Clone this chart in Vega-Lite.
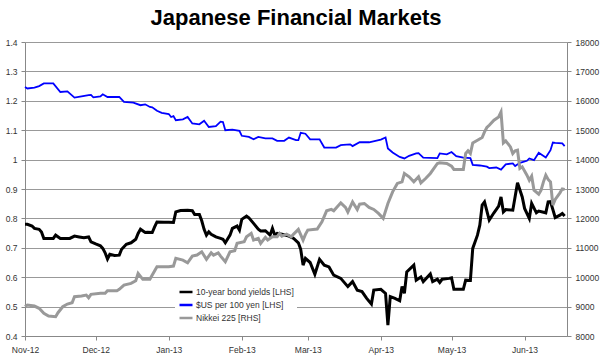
{
  "$schema": "https://vega.github.io/schema/vega-lite/v6.json",
  "width": 542,
  "height": 294,
  "autosize": {"type": "none"},
  "padding": {"left": 25, "top": 42, "right": 33, "bottom": 28},
  "title": {"text": "Japanese Financial Markets", "fontSize": 22, "fontWeight": "bold", "font": "Liberation Sans", "color": "#000", "anchor": "middle", "offset": 8},
  "config": {
    "font": "Liberation Sans",
    "view": {"stroke": null},
    "axis": {"labelFontSize": 8.5, "labelColor": "#333", "domainColor": "#888", "tickColor": "#888", "tickSize": 4, "title": null, "labelFont": "Liberation Sans"}
  },
  "datasets": {
    "bond": [
      {"d":"2012-11-01","v":0.780},{"d":"2012-11-02","v":0.780},{"d":"2012-11-04","v":0.774},{"d":"2012-11-05","v":0.766},{"d":"2012-11-07","v":0.763},{"d":"2012-11-08","v":0.754},{"d":"2012-11-09","v":0.732},{"d":"2012-11-12","v":0.732},{"d":"2012-11-13","v":0.732},{"d":"2012-11-14","v":0.743},{"d":"2012-11-16","v":0.732},{"d":"2012-11-20","v":0.732},{"d":"2012-11-22","v":0.740},{"d":"2012-11-24","v":0.737},{"d":"2012-11-26","v":0.734},{"d":"2012-11-28","v":0.737},{"d":"2012-11-29","v":0.720},
      {"d":"2012-12-01","v":0.713},{"d":"2012-12-03","v":0.707},{"d":"2012-12-04","v":0.698},{"d":"2012-12-05","v":0.683},{"d":"2012-12-06","v":0.662},{"d":"2012-12-07","v":0.678},{"d":"2012-12-09","v":0.674},{"d":"2012-12-11","v":0.675},{"d":"2012-12-12","v":0.695},{"d":"2012-12-14","v":0.712},{"d":"2012-12-16","v":0.717},{"d":"2012-12-18","v":0.729},{"d":"2012-12-19","v":0.749},{"d":"2012-12-20","v":0.763},{"d":"2012-12-22","v":0.752},{"d":"2012-12-23","v":0.753},{"d":"2012-12-25","v":0.752},{"d":"2012-12-26","v":0.771},{"d":"2012-12-27","v":0.788},{"d":"2012-12-30","v":0.787},
      {"d":"2013-01-01","v":0.787},{"d":"2013-01-03","v":0.786},{"d":"2013-01-04","v":0.822},{"d":"2013-01-06","v":0.827},{"d":"2013-01-09","v":0.828},{"d":"2013-01-11","v":0.826},{"d":"2013-01-12","v":0.813},{"d":"2013-01-14","v":0.813},{"d":"2013-01-15","v":0.792},{"d":"2013-01-16","v":0.763},{"d":"2013-01-17","v":0.743},{"d":"2013-01-18","v":0.754},{"d":"2013-01-19","v":0.746},{"d":"2013-01-21","v":0.737},{"d":"2013-01-23","v":0.732},{"d":"2013-01-24","v":0.729},{"d":"2013-01-25","v":0.717},{"d":"2013-01-27","v":0.743},{"d":"2013-01-28","v":0.766},{"d":"2013-01-30","v":0.774},{"d":"2013-01-31","v":0.760},
      {"d":"2013-02-01","v":0.797},{"d":"2013-02-03","v":0.808},{"d":"2013-02-04","v":0.802},{"d":"2013-02-06","v":0.783},{"d":"2013-02-08","v":0.763},{"d":"2013-02-09","v":0.757},{"d":"2013-02-11","v":0.758},{"d":"2013-02-13","v":0.743},{"d":"2013-02-14","v":0.766},{"d":"2013-02-15","v":0.743},{"d":"2013-02-16","v":0.749},{"d":"2013-02-18","v":0.746},{"d":"2013-02-21","v":0.740},{"d":"2013-02-23","v":0.732},{"d":"2013-02-25","v":0.717},{"d":"2013-02-26","v":0.695},{"d":"2013-02-27","v":0.641},{"d":"2013-02-28","v":0.664},
      {"d":"2013-03-02","v":0.650},{"d":"2013-03-04","v":0.610},{"d":"2013-03-06","v":0.661},{"d":"2013-03-08","v":0.641},{"d":"2013-03-10","v":0.635},{"d":"2013-03-12","v":0.607},{"d":"2013-03-15","v":0.596},{"d":"2013-03-18","v":0.568},{"d":"2013-03-20","v":0.585},{"d":"2013-03-22","v":0.556},{"d":"2013-03-24","v":0.551},{"d":"2013-03-26","v":0.528},{"d":"2013-03-28","v":0.509},{"d":"2013-03-29","v":0.556},
      {"d":"2013-04-01","v":0.559},{"d":"2013-04-03","v":0.545},{"d":"2013-04-04","v":0.437},{"d":"2013-04-05","v":0.534},{"d":"2013-04-07","v":0.528},{"d":"2013-04-09","v":0.520},{"d":"2013-04-10","v":0.568},{"d":"2013-04-11","v":0.545},{"d":"2013-04-12","v":0.618},{"d":"2013-04-15","v":0.641},{"d":"2013-04-16","v":0.590},{"d":"2013-04-18","v":0.601},{"d":"2013-04-19","v":0.585},{"d":"2013-04-22","v":0.611},{"d":"2013-04-23","v":0.585},{"d":"2013-04-25","v":0.593},{"d":"2013-04-26","v":0.582},{"d":"2013-04-27","v":0.593},{"d":"2013-04-30","v":0.596},
      {"d":"2013-05-01","v":0.598},{"d":"2013-05-02","v":0.559},{"d":"2013-05-06","v":0.559},{"d":"2013-05-07","v":0.590},{"d":"2013-05-09","v":0.589},{"d":"2013-05-10","v":0.698},{"d":"2013-05-12","v":0.743},{"d":"2013-05-13","v":0.777},{"d":"2013-05-14","v":0.845},{"d":"2013-05-15","v":0.856},{"d":"2013-05-17","v":0.794},{"d":"2013-05-19","v":0.819},{"d":"2013-05-21","v":0.842},{"d":"2013-05-22","v":0.873},{"d":"2013-05-23","v":0.822},{"d":"2013-05-24","v":0.830},{"d":"2013-05-27","v":0.828},{"d":"2013-05-29","v":0.921},{"d":"2013-05-31","v":0.873},
      {"d":"2013-06-01","v":0.834},{"d":"2013-06-03","v":0.800},{"d":"2013-06-04","v":0.851},{"d":"2013-06-06","v":0.819},{"d":"2013-06-07","v":0.825},{"d":"2013-06-10","v":0.819},{"d":"2013-06-11","v":0.856},{"d":"2013-06-12","v":0.857},{"d":"2013-06-14","v":0.803},{"d":"2013-06-16","v":0.811},{"d":"2013-06-17","v":0.817},{"d":"2013-06-18","v":0.808}
    ],
    "usd": [
      {"d":"2012-11-01","v":1.247},{"d":"2012-11-02","v":1.242},{"d":"2012-11-05","v":1.245},{"d":"2012-11-07","v":1.250},{"d":"2012-11-09","v":1.259},{"d":"2012-11-13","v":1.259},{"d":"2012-11-16","v":1.230},{"d":"2012-11-19","v":1.232},{"d":"2012-11-22","v":1.211},{"d":"2012-11-25","v":1.215},{"d":"2012-11-28","v":1.219},{"d":"2012-11-29","v":1.220},{"d":"2012-11-30","v":1.212},
      {"d":"2012-12-03","v":1.215},{"d":"2012-12-04","v":1.222},{"d":"2012-12-06","v":1.213},{"d":"2012-12-11","v":1.213},{"d":"2012-12-13","v":1.196},{"d":"2012-12-17","v":1.194},{"d":"2012-12-20","v":1.185},{"d":"2012-12-22","v":1.188},{"d":"2012-12-24","v":1.179},{"d":"2012-12-25","v":1.178},{"d":"2012-12-27","v":1.166},{"d":"2012-12-29","v":1.159},
      {"d":"2013-01-01","v":1.155},{"d":"2013-01-02","v":1.145},{"d":"2013-01-03","v":1.148},{"d":"2013-01-04","v":1.134},{"d":"2013-01-07","v":1.137},{"d":"2013-01-09","v":1.145},{"d":"2013-01-11","v":1.123},{"d":"2013-01-14","v":1.120},{"d":"2013-01-16","v":1.132},{"d":"2013-01-18","v":1.111},{"d":"2013-01-21","v":1.114},{"d":"2013-01-23","v":1.129},{"d":"2013-01-24","v":1.128},{"d":"2013-01-25","v":1.100},{"d":"2013-01-28","v":1.102},{"d":"2013-01-31","v":1.098},
      {"d":"2013-02-01","v":1.081},{"d":"2013-02-04","v":1.077},{"d":"2013-02-06","v":1.069},{"d":"2013-02-08","v":1.077},{"d":"2013-02-11","v":1.072},{"d":"2013-02-14","v":1.072},{"d":"2013-02-16","v":1.064},{"d":"2013-02-19","v":1.064},{"d":"2013-02-21","v":1.075},{"d":"2013-02-24","v":1.066},{"d":"2013-02-25","v":1.066},{"d":"2013-02-26","v":1.091},{"d":"2013-02-28","v":1.088},
      {"d":"2013-03-02","v":1.069},{"d":"2013-03-06","v":1.069},{"d":"2013-03-08","v":1.041},{"d":"2013-03-13","v":1.041},{"d":"2013-03-15","v":1.049},{"d":"2013-03-16","v":1.050},{"d":"2013-03-19","v":1.052},{"d":"2013-03-20","v":1.046},{"d":"2013-03-23","v":1.059},{"d":"2013-03-27","v":1.059},
      {"d":"2013-04-01","v":1.068},{"d":"2013-04-03","v":1.075},{"d":"2013-04-04","v":1.038},{"d":"2013-04-06","v":1.024},{"d":"2013-04-09","v":1.009},{"d":"2013-04-11","v":1.004},{"d":"2013-04-13","v":1.013},{"d":"2013-04-16","v":1.021},{"d":"2013-04-17","v":1.022},{"d":"2013-04-19","v":1.007},{"d":"2013-04-25","v":1.005},{"d":"2013-04-26","v":1.021},{"d":"2013-04-29","v":1.018},
      {"d":"2013-05-01","v":1.026},{"d":"2013-05-03","v":1.012},{"d":"2013-05-06","v":1.007},{"d":"2013-05-09","v":1.005},{"d":"2013-05-10","v":0.982},{"d":"2013-05-13","v":0.980},{"d":"2013-05-16","v":0.976},{"d":"2013-05-17","v":0.971},{"d":"2013-05-20","v":0.973},{"d":"2013-05-22","v":0.966},{"d":"2013-05-24","v":0.984},{"d":"2013-05-27","v":0.987},{"d":"2013-05-28","v":0.978},{"d":"2013-05-30","v":0.989},
      {"d":"2013-06-02","v":0.996},{"d":"2013-06-03","v":1.004},{"d":"2013-06-05","v":0.998},{"d":"2013-06-07","v":1.023},{"d":"2013-06-10","v":1.007},{"d":"2013-06-12","v":1.032},{"d":"2013-06-13","v":1.058},{"d":"2013-06-14","v":1.057},{"d":"2013-06-17","v":1.055},{"d":"2013-06-18","v":1.046}
    ],
    "nikkei": [
      {"d":"2012-11-01","v":9000},{"d":"2012-11-02","v":9053},{"d":"2012-11-05","v":9019},{"d":"2012-11-07","v":8941},{"d":"2012-11-09","v":8771},{"d":"2012-11-11","v":8680},{"d":"2012-11-14","v":8656},{"d":"2012-11-15","v":8792},{"d":"2012-11-17","v":8996},{"d":"2012-11-19","v":9087},{"d":"2012-11-21","v":9132},{"d":"2012-11-22","v":9336},{"d":"2012-11-25","v":9359},{"d":"2012-11-27","v":9393},{"d":"2012-11-28","v":9302},{"d":"2012-11-29","v":9416},
      {"d":"2012-12-03","v":9450},{"d":"2012-12-05","v":9450},{"d":"2012-12-06","v":9540},{"d":"2012-12-10","v":9540},{"d":"2012-12-11","v":9586},{"d":"2012-12-13","v":9733},{"d":"2012-12-16","v":9790},{"d":"2012-12-18","v":9879},{"d":"2012-12-19","v":10130},{"d":"2012-12-21","v":9927},{"d":"2012-12-24","v":9927},{"d":"2012-12-25","v":10073},{"d":"2012-12-27","v":10355},
      {"d":"2013-01-01","v":10355},{"d":"2013-01-03","v":10378},{"d":"2013-01-04","v":10640},{"d":"2013-01-07","v":10582},{"d":"2013-01-09","v":10491},{"d":"2013-01-11","v":10718},{"d":"2013-01-13","v":10752},{"d":"2013-01-15","v":10865},{"d":"2013-01-17","v":10606},{"d":"2013-01-19","v":10830},{"d":"2013-01-20","v":10752},{"d":"2013-01-22","v":10830},{"d":"2013-01-23","v":10718},{"d":"2013-01-25","v":10525},{"d":"2013-01-27","v":10865},{"d":"2013-01-29","v":10899},{"d":"2013-01-30","v":11150},
      {"d":"2013-02-02","v":11204},{"d":"2013-02-03","v":11374},{"d":"2013-02-05","v":11490},{"d":"2013-02-06","v":11262},{"d":"2013-02-08","v":11320},{"d":"2013-02-09","v":11150},{"d":"2013-02-11","v":11354},{"d":"2013-02-12","v":11262},{"d":"2013-02-14","v":11374},{"d":"2013-02-16","v":11374},{"d":"2013-02-17","v":11490},{"d":"2013-02-18","v":11398},{"d":"2013-02-20","v":11466},{"d":"2013-02-22","v":11374},{"d":"2013-02-23","v":11466},{"d":"2013-02-25","v":11626},{"d":"2013-02-27","v":11262},{"d":"2013-02-28","v":11456},
      {"d":"2013-03-01","v":11602},{"d":"2013-03-05","v":11636},{"d":"2013-03-07","v":11884},{"d":"2013-03-09","v":12258},{"d":"2013-03-11","v":12305},{"d":"2013-03-12","v":12260},{"d":"2013-03-15","v":12530},{"d":"2013-03-17","v":12373},{"d":"2013-03-18","v":12213},{"d":"2013-03-20","v":12563},{"d":"2013-03-22","v":12305},{"d":"2013-03-23","v":12485},{"d":"2013-03-25","v":12508},{"d":"2013-03-27","v":12373},{"d":"2013-03-29","v":12305},{"d":"2013-03-31","v":12169},
      {"d":"2013-04-02","v":12000},{"d":"2013-04-04","v":12508},{"d":"2013-04-06","v":12903},{"d":"2013-04-08","v":13189},{"d":"2013-04-10","v":13243},{"d":"2013-04-11","v":13529},{"d":"2013-04-13","v":13416},{"d":"2013-04-15","v":13243},{"d":"2013-04-17","v":13416},{"d":"2013-04-18","v":13209},{"d":"2013-04-20","v":13358},{"d":"2013-04-22","v":13529},{"d":"2013-04-25","v":13868},{"d":"2013-04-26","v":13890},{"d":"2013-04-29","v":13868},
      {"d":"2013-05-01","v":13776},{"d":"2013-05-02","v":13664},{"d":"2013-05-06","v":13664},{"d":"2013-05-07","v":14207},{"d":"2013-05-08","v":14297},{"d":"2013-05-09","v":14207},{"d":"2013-05-10","v":14568},{"d":"2013-05-12","v":14660},{"d":"2013-05-14","v":14751},{"d":"2013-05-15","v":14942},{"d":"2013-05-16","v":15091},{"d":"2013-05-17","v":15170},{"d":"2013-05-19","v":15340},{"d":"2013-05-21","v":15452},{"d":"2013-05-22","v":15622},{"d":"2013-05-23","v":14568},{"d":"2013-05-24","v":14636},{"d":"2013-05-26","v":14432},{"d":"2013-05-27","v":14207},{"d":"2013-05-28","v":14297},{"d":"2013-05-29","v":14320},{"d":"2013-05-30","v":13698},{"d":"2013-05-31","v":13753},
      {"d":"2013-06-02","v":13471},{"d":"2013-06-03","v":13300},{"d":"2013-06-04","v":13437},{"d":"2013-06-05","v":12960},{"d":"2013-06-07","v":12825},{"d":"2013-06-08","v":12960},{"d":"2013-06-09","v":13243},{"d":"2013-06-10","v":13471},{"d":"2013-06-11","v":13325},{"d":"2013-06-12","v":13243},{"d":"2013-06-13","v":12451},{"d":"2013-06-14","v":12645},{"d":"2013-06-16","v":12869},{"d":"2013-06-17","v":13005},{"d":"2013-06-18","v":12985}
    ]
  },
  "encoding": {
    "x": {
      "field": "d", "type": "temporal",
      "scale": {"domain": [{"year": 2012, "month": 11, "date": 1}, {"year": 2013, "month": 6, "date": 19}]},
      "axis": {"format": "%b-%y", "tickCount": {"interval": "month", "step": 1}, "labelPadding": 5, "grid": false, "labelFlush": false, "labelOverlap": false}
    }
  },
  "layer": [
    {
      "data": {"name": "bond"},
      "mark": {"type": "line", "strokeWidth": 3, "interpolate": "linear"},
      "encoding": {
        "y": {"field": "v", "type": "quantitative", "scale": {"domain": [0.4, 1.4], "nice": false, "zero": false},
          "axis": {"orient": "left", "values": [0.4,0.5,0.6,0.7,0.8,0.9,1.0,1.1,1.2,1.3,1.4], "format": ".1~f", "grid": true, "gridColor": "#999", "gridWidth": 1, "labelPadding": 4}},
        "color": {"datum": "10-year bond yields [LHS]", "type": "nominal",
          "scale": {"domain": ["10-year bond yields [LHS]", "$US per 100 yen [LHS]", "Nikkei 225 [RHS]"], "range": ["#000000", "#0000ff", "#999999"]},
          "legend": {"title": null, "orient": "none", "legendX": 150, "legendY": 239, "symbolType": "stroke", "symbolSize": 169, "symbolStrokeWidth": 2.5, "labelFontSize": 8.5, "labelColor": "#333", "labelOffset": 2, "rowPadding": 0, "padding": 3, "fillColor": "#ffffff", "labelFont": "Liberation Sans"}}
      }
    },
    {
      "data": {"name": "usd"},
      "mark": {"type": "line", "strokeWidth": 1.8},
      "encoding": {
        "y": {"field": "v", "type": "quantitative", "scale": {"domain": [0.4, 1.4], "nice": false, "zero": false}, "axis": null},
        "color": {"datum": "$US per 100 yen [LHS]", "type": "nominal"}
      }
    },
    {
      "data": {"name": "nikkei"},
      "mark": {"type": "line", "strokeWidth": 3},
      "encoding": {
        "y": {"field": "v", "type": "quantitative", "scale": {"domain": [8000, 18000], "nice": false, "zero": false},
          "axis": {"orient": "right", "values": [8000,9000,10000,11000,12000,13000,14000,15000,16000,17000,18000], "format": "d", "grid": false, "labelPadding": 4}},
        "color": {"datum": "Nikkei 225 [RHS]", "type": "nominal"}
      }
    }
  ],
  "resolve": {"scale": {"y": "independent"}, "axis": {"y": "independent"}}
}
